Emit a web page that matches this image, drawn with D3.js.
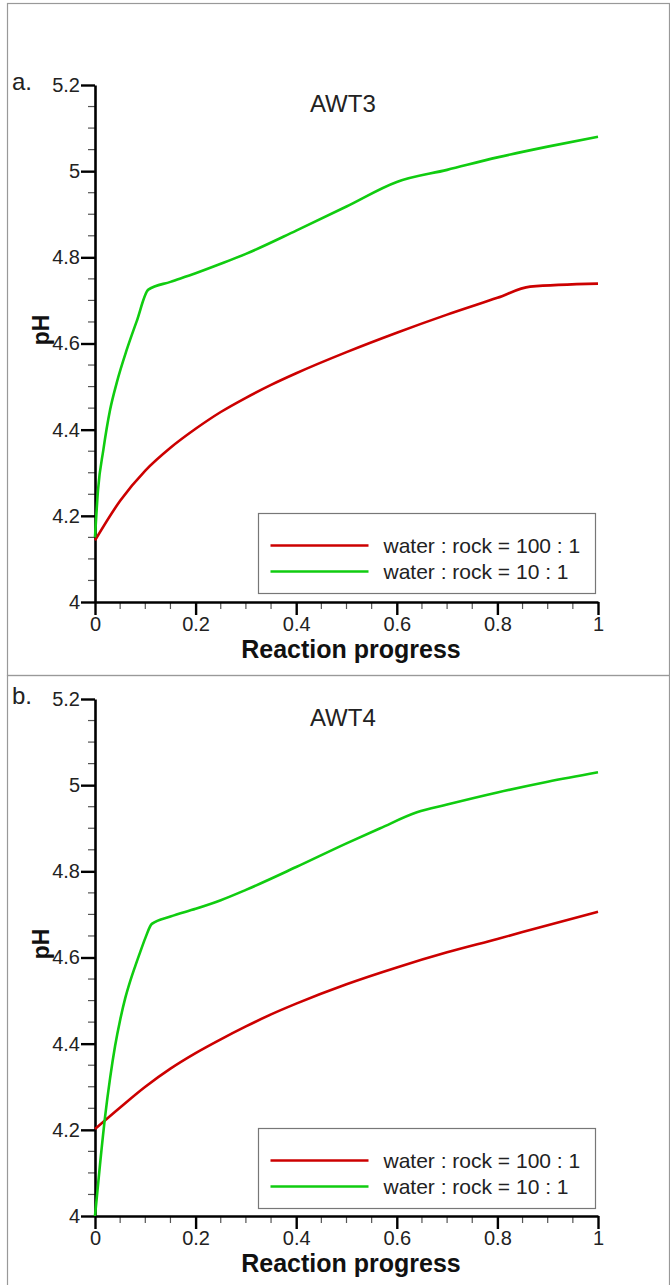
<!DOCTYPE html>
<html>
<head>
<meta charset="utf-8">
<script src="https://cdn.jsdelivr.net/npm/d3@7"></script>
<style>
  body { margin: 0; background: #fff; }
  text { font-family: "Liberation Sans", Arial, sans-serif; }
</style>
</head>
<body>
<div id="chart"></div>
<script>
// reaction progress vs pH
const awt3Red = [[0, 4.143], [0.05, 4.235], [0.1, 4.305], [0.15, 4.358], [0.2, 4.402], [0.25, 4.441],
  [0.3, 4.474], [0.35, 4.504], [0.4, 4.531], [0.5, 4.580], [0.6, 4.625], [0.7, 4.667],
  [0.8, 4.706], [0.865, 4.732], [1.0, 4.739]];
const awt3Green = [[0, 4.15], [0.006, 4.26], [0.0166, 4.353], [0.03, 4.446], [0.043, 4.508], [0.063, 4.585],
  [0.083, 4.652], [0.106, 4.725], [0.15, 4.743], [0.2, 4.763], [0.25, 4.785], [0.3, 4.808],
  [0.4, 4.862], [0.5, 4.918], [0.6, 4.975], [0.7, 5.003], [0.8, 5.032], [0.9, 5.057], [1.0, 5.080]];
const awt4Red = [[0, 4.202], [0.05, 4.252], [0.1, 4.30], [0.15, 4.342], [0.2, 4.378], [0.25, 4.41],
  [0.3, 4.44], [0.35, 4.468], [0.4, 4.493], [0.5, 4.538], [0.6, 4.577], [0.7, 4.612],
  [0.8, 4.643], [0.9, 4.675], [1.0, 4.706]];
const awt4Green = [[0, 4.0], [0.01, 4.12], [0.02, 4.23], [0.03, 4.32], [0.04, 4.395], [0.05, 4.455],
  [0.06, 4.505], [0.07, 4.545], [0.08, 4.58], [0.09, 4.613], [0.1, 4.645], [0.113, 4.678],
  [0.15, 4.695], [0.2, 4.713], [0.25, 4.733], [0.3, 4.757], [0.4, 4.81], [0.5, 4.865],
  [0.567, 4.90], [0.64, 4.937], [0.7, 4.955], [0.8, 4.983], [0.9, 5.008], [1.0, 5.03]];

const xTicks = [0, 0.2, 0.4, 0.6, 0.8, 1];
const yTicks = [4, 4.2, 4.4, 4.6, 4.8, 5, 5.2];
const legendLabels = ["water : rock = 100 : 1", "water : rock = 10 : 1"];
const colors = ["#cc0000", "#10cc10"];

const svg = d3.select("#chart").append("svg")
  .attr("width", 670)
  .attr("height", 1285);

// panel frames
svg.append("rect").attr("x", 7.5).attr("y", 3.5).attr("width", 662).attr("height", 672)
  .attr("fill", "none").attr("stroke", "#999").attr("stroke-width", 1.2);
svg.append("rect").attr("x", 7.5).attr("y", 675.5).attr("width", 662).attr("height", 620)
  .attr("fill", "none").attr("stroke", "#999").attr("stroke-width", 1.2);

function panel(top, letter, title, red, green, legendTop) {
  const x = d3.scaleLinear().domain([0, 1]).range([95, 598]);
  const y = d3.scaleLinear().domain([4, 5.2]).range([top + 517, top]);
  const g = svg.append("g");

  // minor ticks every 0.05
  const isMajor = v => Math.abs(v * 5 - Math.round(v * 5)) < 0.01;
  g.selectAll(".xminor").data(d3.range(1, 20).map(i => i * 0.05).filter(v => !isMajor(v)))
    .join("line")
    .attr("x1", d => x(d)).attr("x2", d => x(d))
    .attr("y1", y(4)).attr("y2", y(4) + 7)
    .attr("stroke", "#555").attr("stroke-width", 1.2);
  g.selectAll(".yminor").data(d3.range(1, 24).map(i => 4 + i * 0.05).filter(v => !isMajor(v)))
    .join("line")
    .attr("x1", x(0) - 7).attr("x2", x(0))
    .attr("y1", d => y(d)).attr("y2", d => y(d))
    .attr("stroke", "#555").attr("stroke-width", 1.2);

  const xAxis = g.append("g")
    .attr("transform", `translate(0,${y(4)})`)
    .call(d3.axisBottom(x).tickValues(xTicks).tickFormat(d3.format("")).tickSizeInner(13).tickSizeOuter(0).tickPadding(2));
  const yAxis = g.append("g")
    .attr("transform", `translate(${x(0)},0)`)
    .call(d3.axisLeft(y).tickValues(yTicks).tickFormat(d3.format("")).tickSizeInner(14).tickSizeOuter(0).tickPadding(1));
  [xAxis, yAxis].forEach(a => {
    a.attr("font-size", 20).attr("font-family", "'Liberation Sans', Arial, sans-serif");
    a.select(".domain").attr("stroke", "#000").attr("stroke-width", 2.6);
    a.selectAll(".tick line").attr("stroke", "#000").attr("stroke-width", 2.4);
    a.selectAll(".tick text").attr("fill", "#222");
  });

  const line = d3.line().x(d => x(d[0])).y(d => y(d[1])).curve(d3.curveMonotoneX);
  [red, green].forEach((s, i) => {
    g.append("path").datum(s).attr("d", line)
      .attr("fill", "none").attr("stroke", colors[i]).attr("stroke-width", 2.6);
  });

  g.append("text").attr("x", 12).attr("y", top + 5).text(letter)
    .style("font-size", "24px").attr("fill", "#222");
  g.append("text").attr("x", 310).attr("y", top + 27).text(title)
    .style("font-size", "24px").attr("fill", "#222");
  g.append("text")
    .attr("transform", `translate(49,${top + 245}) rotate(-90)`)
    .attr("text-anchor", "middle").text("pH")
    .style("font-size", "23px").style("font-weight", "bold").attr("fill", "#111");
  g.append("text").attr("x", 351).attr("y", top + 573).attr("text-anchor", "middle")
    .text("Reaction progress")
    .style("font-size", "25px").style("font-weight", "bold").attr("fill", "#111");

  // legend
  const lg = g.append("g").attr("transform", `translate(258.5,${legendTop + 0.5})`);
  lg.append("rect").attr("width", 337).attr("height", 80)
    .attr("fill", "#fff").attr("stroke", "#777").attr("stroke-width", 1.2);
  legendLabels.forEach((t, i) => {
    const ly = 32 + i * 26;
    lg.append("line").attr("x1", 12).attr("x2", 110).attr("y1", ly).attr("y2", ly)
      .attr("stroke", colors[i]).attr("stroke-width", 2.6);
    lg.append("text").attr("x", 125).attr("y", ly + 7).text(t)
      .style("font-size", "21px").attr("fill", "#222");
  });
}

panel(85, "a.", "AWT3", awt3Red, awt3Green, 513);
panel(699, "b.", "AWT4", awt4Red, awt4Green, 1128);
</script>
</body>
</html>
